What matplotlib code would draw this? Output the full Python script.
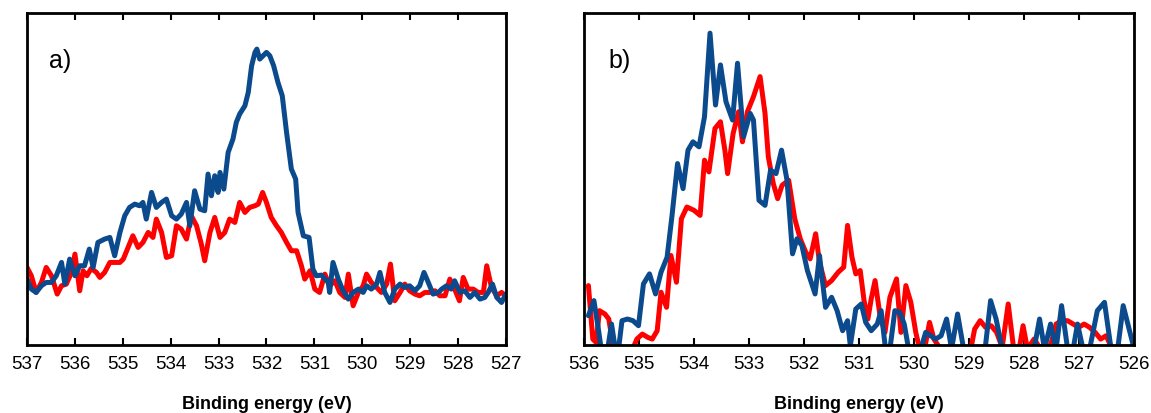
import numpy as np
import matplotlib
matplotlib.use("Agg")
from matplotlib import pyplot as plt

plt.rcParams['font.family'] = ['Liberation Sans', 'DejaVu Sans']

# panel a) binding energies (eV) and intensities (arb. units)
energy_a_blue = [537.00, 536.91, 536.81, 536.70, 536.60, 536.49, 536.39, 536.28, 536.21, 536.11,
                 536.00, 535.90, 535.80, 535.70, 535.62, 535.52, 535.38, 535.27, 535.17, 535.06,
                 534.96, 534.86, 534.75, 534.65, 534.58, 534.51, 534.40, 534.30, 534.19, 534.09,
                 533.98, 533.88, 533.78, 533.67, 533.60, 533.50, 533.39, 533.29, 533.22, 533.15,
                 533.08, 533.01, 532.97, 532.89, 532.80, 532.70, 532.63, 532.56, 532.45, 532.38,
                 532.31, 532.24, 532.20, 532.14, 532.07, 532.00, 531.93, 531.85, 531.76, 531.67,
                 531.58, 531.48, 531.39, 531.34, 531.23, 531.11, 531.03, 530.96, 530.85, 530.71,
                 530.68, 530.61, 530.50, 530.40, 530.29, 530.19, 530.08, 529.98, 529.91, 529.81,
                 529.70, 529.63, 529.53, 529.42, 529.32, 529.21, 529.11, 529.01, 528.90, 528.80,
                 528.71, 528.62, 528.52, 528.41, 528.34, 528.24, 528.14, 528.07, 527.96, 527.86,
                 527.75, 527.65, 527.54, 527.44, 527.37, 527.28, 527.19, 527.09, 527.00]
counts_a_blue = [198, 168, 158, 178, 188, 188, 208, 248, 183, 258,
                 208, 238, 238, 288, 233, 308, 318, 323, 268, 338,
                 388, 413, 423, 418, 428, 378, 458, 413, 428, 438,
                 388, 378, 393, 428, 358, 463, 408, 403, 513, 448,
                 508, 458, 518, 468, 578, 618, 668, 693, 718, 758,
                 838, 878, 888, 858, 868, 878, 868, 838, 788, 748,
                 638, 528, 498, 398, 328, 323, 228, 208, 210, 188,
                 158, 248, 198, 163, 138, 158, 168, 158, 178, 168,
                 183, 218, 158, 128, 168, 183, 173, 178, 163, 178,
                 218, 188, 153, 158, 168, 178, 168, 193, 158, 163,
                 143, 158, 138, 143, 158, 183, 143, 128, 153]

energy_a_red = [537.00, 536.91, 536.81, 536.70, 536.60, 536.49, 536.37, 536.28, 536.18, 536.07,
                536.00, 535.90, 535.83, 535.75, 535.66, 535.55, 535.48, 535.38, 535.27, 535.17,
                535.06, 534.99, 534.89, 534.79, 534.68, 534.58, 534.47, 534.37, 534.30, 534.19,
                534.09, 533.98, 533.88, 533.78, 533.67, 533.57, 533.46, 533.36, 533.29, 533.18,
                533.08, 532.97, 532.87, 532.77, 532.66, 532.56, 532.45, 532.35, 532.24, 532.17,
                532.08, 532.00, 531.90, 531.79, 531.69, 531.58, 531.48, 531.37, 531.27, 531.20,
                531.09, 530.99, 530.89, 530.78, 530.68, 530.57, 530.47, 530.36, 530.29, 530.19,
                530.08, 529.98, 529.91, 529.81, 529.70, 529.60, 529.49, 529.41, 529.32, 529.21,
                529.11, 529.01, 528.90, 528.80, 528.69, 528.59, 528.48, 528.38, 528.27, 528.17,
                528.07, 527.97, 527.89, 527.79, 527.68, 527.58, 527.47, 527.40, 527.30, 527.19,
                527.09, 527.00]
counts_a_red = [233, 208, 158, 188, 233, 208, 153, 178, 183, 218,
                273, 163, 223, 208, 230, 218, 203, 218, 248, 248,
                248, 258, 293, 328, 293, 308, 338, 323, 378, 338,
                263, 268, 358, 348, 318, 388, 358, 303, 253, 338,
                383, 323, 338, 378, 368, 428, 398, 413, 418, 423,
                458, 428, 383, 358, 338, 308, 283, 283, 238, 198,
                223, 168, 158, 213, 178, 193, 158, 143, 213, 118,
                158, 178, 213, 188, 173, 158, 183, 243, 133, 158,
                183, 163, 153, 148, 158, 158, 163, 148, 148, 198,
                168, 133, 203, 168, 168, 158, 158, 238, 173, 148,
                158, 148]

# panel b)
energy_b_blue = [535.92, 535.82, 535.73, 535.68, 535.58, 535.50, 535.43, 535.38, 535.31, 535.21,
                 535.11, 535.01, 534.92, 534.81, 534.70, 534.60, 534.49, 534.40, 534.30, 534.20,
                 534.11, 534.02, 533.91, 533.81, 533.71, 533.61, 533.52, 533.42, 533.30, 533.21,
                 533.10, 532.98, 532.92, 532.82, 532.71, 532.61, 532.51, 532.41, 532.31, 532.21,
                 532.13, 532.04, 531.94, 531.80, 531.72, 531.61, 531.50, 531.40, 531.30, 531.21,
                 531.16, 531.06, 530.96, 530.88, 530.78, 530.67, 530.60, 530.52, 530.44, 530.35,
                 530.26, 530.18, 530.10, 529.98, 529.88, 529.79, 529.70, 529.61, 529.51, 529.41,
                 529.32, 529.21, 529.10, 529.00, 528.90, 528.71, 528.61, 528.51, 528.40, 528.29,
                 528.16, 527.99, 527.82, 527.72, 527.63, 527.52, 527.42, 527.32, 527.21, 527.11,
                 527.03, 526.93, 526.81, 526.67, 526.54, 526.42, 526.30, 526.20, 526.10, 526.00]
counts_b_blue = [88, 133, 38, -22, -22, 63, -12, -22, 73, 78,
                 73, 58, 183, 213, 153, 218, 263, 388, 543, 468,
                 583, 608, 593, 683, 933, 718, 838, 728, 673, 843,
                 623, 693, 673, 433, 418, 523, 513, 583, 493, 273,
                 318, 298, 223, 153, 268, 113, 143, 103, 43, 73,
                 -2, 108, 123, 68, 43, 63, 103, -12, -12, 103,
                 98, 63, -12, -12, -12, 38, 28, 18, 28, 78,
                 -12, 93, -12, -12, -12, -12, 133, 78, -12, -12,
                 -12, -12, -12, 78, -12, 63, -12, 118, -12, -12,
                 63, -12, -12, 103, 128, -12, -12, 118, 53, -12]

energy_b_red = [535.92, 535.84, 535.78, 535.72, 535.62, 535.55, 535.48, 535.38, 535.24, 535.11,
                535.04, 534.94, 534.84, 534.76, 534.67, 534.60, 534.50, 534.42, 534.32, 534.23,
                534.13, 534.00, 533.89, 533.81, 533.73, 533.62, 533.52, 533.44, 533.39, 533.29,
                533.19, 533.12, 533.03, 532.92, 532.80, 532.71, 532.65, 532.56, 532.48, 532.40,
                532.28, 532.17, 532.07, 531.97, 531.89, 531.79, 531.72, 531.61, 531.50, 531.38,
                531.28, 531.21, 531.13, 531.06, 530.98, 530.91, 530.84, 530.78, 530.71, 530.62,
                530.53, 530.44, 530.32, 530.24, 530.15, 530.06, 529.97, 529.90, 529.81, 529.72,
                529.64, 529.54, 529.41, 529.27, 529.10, 528.97, 528.90, 528.80, 528.70, 528.60,
                528.50, 528.40, 528.29, 528.19, 528.09, 528.02, 527.94, 527.82, 527.72, 527.62,
                527.52, 527.42, 527.32, 527.21, 527.11, 527.01, 526.91, 526.81, 526.71, 526.61,
                526.51, 526.40, 526.27, 526.13, 526.00]
counts_b_red = [178, 18, 8, 103, 93, 78, 8, -15, -15, -10,
                18, 33, 23, 18, 43, 158, 113, 268, 188, 378,
                413, 403, 388, 553, 518, 648, 668, 583, 513, 633,
                698, 608, 698, 743, 803, 693, 563, 483, 438, 478,
                493, 378, 318, 278, 258, 333, 248, 178, 193, 218,
                233, 358, 263, 213, 223, 133, 78, 138, 193, 88,
                38, 143, 198, 38, 178, 128, 38, -12, -12, 68,
                18, -7, -12, -7, -12, -12, 48, 73, 53, 58,
                38, -7, 123, -12, -12, 58, -12, 18, -7, -2,
                -2, 63, 73, 73, 63, 53, 63, 53, 38, 18,
                28, -12, -12, -12, -12]

red = '#ff0000'
blue = '#0b4a8c'

fig = plt.figure(figsize=(11.51, 4.14), dpi=100)
ax1 = fig.add_axes([0.0235, 0.164, 0.416, 0.802])
ax2 = fig.add_axes([0.5074, 0.164, 0.478, 0.802])

ax1.plot(energy_a_red, counts_a_red, color=red, lw=3.6, solid_joinstyle='round', solid_capstyle='round')
ax1.plot(energy_a_blue, counts_a_blue, color=blue, lw=3.6, solid_joinstyle='round', solid_capstyle='round')
ax1.set_xlim(537, 527)
ax1.set_ylim(0, 996)
ax1.set_xticks(np.arange(537, 526, -1))

ax2.plot(energy_b_red, counts_b_red, color=red, lw=3.6, solid_joinstyle='round', solid_capstyle='round')
ax2.plot(energy_b_blue, counts_b_blue, color=blue, lw=3.6, solid_joinstyle='round', solid_capstyle='round')
ax2.set_xlim(536, 526)
ax2.set_ylim(0, 993)
ax2.set_xticks(np.arange(536, 525, -1))

for ax, lab in [(ax1, 'a)'), (ax2, 'b)')]:
    ax.set_yticks([])
    for s in ax.spines.values():
        s.set_linewidth(2)
    ax.tick_params(axis='x', direction='in', top=True, bottom=True, length=5, width=1.5,
                   labelsize=13.5, pad=7)
    ax.set_xlabel('Binding energy (eV)', fontsize=13, fontweight='bold', labelpad=17)
    ax.text(0.045, 0.86, lab, transform=ax.transAxes, fontsize=18, va='center', ha='left')

plt.savefig('out.png', dpi=100)
